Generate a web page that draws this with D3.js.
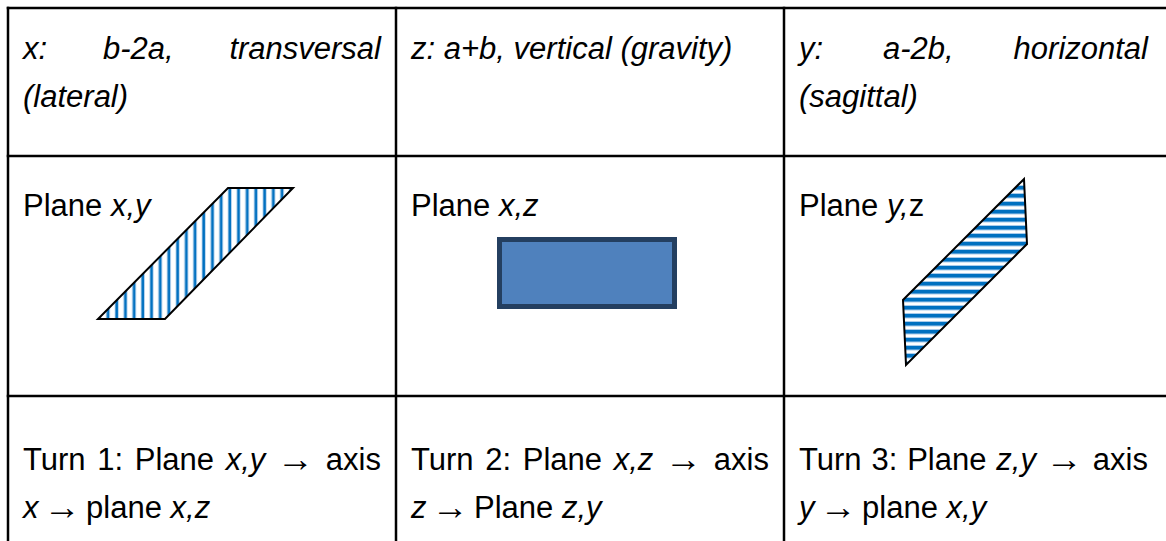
<!DOCTYPE html>
<html>
<head>
<meta charset="utf-8">
<script src="https://cdn.jsdelivr.net/npm/d3@7"></script>
<style>
  html, body { margin: 0; padding: 0; background: #fff; overflow: hidden; }
</style>
</head>
<body>
<div id="chart"></div>
<script>
// Cell texts: *...* marks italic runs, | marks a line break (lines before it are justified)
const headerTexts = [
  "*x: b-2a, transversal|(lateral)*",
  "*z: a+b, vertical (gravity)*",
  "*y: a-2b, horizontal|(sagittal)*"
];
const planeTexts = ["Plane *x,y*", "Plane *x,z*", "Plane *y,*z"];
const turnTexts = [
  "Turn 1: Plane *x,y* → axis|*x* → plane *x,z*",
  "Turn 2: Plane *x,z* → axis|*z* → Plane *z,y*",
  "Turn 3: Plane *z,y* → axis|*y* → plane *x,y*"
];
const rowTexts = [headerTexts, planeTexts, turnTexts];

// Plane drawings, in cell-local units
const planeShapes = [
  { kind: "poly", fill: "url(#vstripes)", points: [[220, 32], [285, 32], [157, 163], [90, 163]] },
  { kind: "rect", fill: "#4F81BD", points: [[103.5, 83.5], [278.5, 150.5]] },
  { kind: "poly", fill: "url(#hstripes)", points: [[240, 23], [243, 88], [122, 209], [119, 144]] }
];

class Chart {
  constructor() {
    const attrs = {
      container: "#chart",
      svgWidth: 1166,
      svgHeight: 541,
      tableLeft: 8,
      tableRight: 1172,
      rowEdges: [8, 156, 396, 546],
      firstBaseline: [51, 60, 74],
      lineHeight: 48,
      padLeft: 15,
      padRight: [15, 15, 24],
      fontSize: 31,
      arrowScale: [1.2, 1.15],
      font: "'Liberation Sans', Arial, Helvetica, sans-serif"
    };
    this.getState = () => attrs;
    this.setState = (d) => Object.assign(attrs, d);
  }

  render() {
    this.drawSvg();
    this.drawDefs();
    this.drawShapes();
    this.drawTexts();
    this.drawGrid();
    return this;
  }

  drawSvg() {
    const { container, svgWidth, svgHeight, font, tableLeft, tableRight } = this.getState();
    const svg = d3.select(container).append("svg")
      .attr("width", svgWidth)
      .attr("height", svgHeight)
      .attr("font-family", font);
    const colScale = d3.scaleBand().domain(d3.range(3)).range([tableLeft, tableRight]).padding(0);
    this.setState({ svg, colScale });
  }

  drawDefs() {
    const { svg } = this.getState();
    const defs = svg.append("defs");

    const v = defs.append("pattern").attr("id", "vstripes")
      .attr("patternUnits", "userSpaceOnUse").attr("width", 8.7).attr("height", 10);
    v.append("rect").attr("width", 8.7).attr("height", 10).attr("fill", "#fff");
    v.append("rect").attr("x", 1.6).attr("width", 4).attr("height", 10).attr("fill", "#A9CBEA");
    v.append("rect").attr("x", 2.4).attr("width", 2.4).attr("height", 10).attr("fill", "#0070C0");

    const h = defs.append("pattern").attr("id", "hstripes")
      .attr("patternUnits", "userSpaceOnUse").attr("width", 10).attr("height", 8);
    h.append("rect").attr("width", 10).attr("height", 8).attr("fill", "#fff");
    h.append("rect").attr("y", 1).attr("width", 10).attr("height", 5.5).attr("fill", "#A9CBEA");
    h.append("rect").attr("y", 2).attr("width", 10).attr("height", 3.5).attr("fill", "#0070C0");
  }

  drawShapes() {
    const { svg, colScale, rowEdges } = this.getState();
    const g = svg.append("g").attr("class", "shapes");
    planeShapes.forEach((s, i) => {
      const x = d3.scaleLinear().domain([0, colScale.bandwidth()])
        .range([colScale(i), colScale(i) + colScale.bandwidth()]);
      const y = d3.scaleLinear().domain([0, rowEdges[2] - rowEdges[1]])
        .range([rowEdges[1], rowEdges[2]]);
      if (s.kind === "rect") {
        const [[x0, y0], [x1, y1]] = s.points;
        g.append("rect")
          .attr("x", x(x0)).attr("y", y(y0))
          .attr("width", x(x1) - x(x0)).attr("height", y(y1) - y(y0))
          .attr("fill", s.fill)
          .attr("stroke", "#243F60")
          .attr("stroke-width", 5);
      } else {
        g.append("path")
          .attr("d", d3.line().x(d => x(d[0])).y(d => y(d[1]))(s.points) + "Z")
          .attr("fill", s.fill)
          .attr("stroke", "#000")
          .attr("stroke-width", 2)
          .attr("stroke-linejoin", "miter");
      }
    });
  }

  // returns lines -> words -> segments
  parseLines(str) {
    let italic = false;
    return str.split("|").map(line => line.split(" ").map(w => {
      const segs = [];
      w.split("*").forEach((p, i) => {
        if (i > 0) italic = !italic;
        if (p) segs.push({ t: p, italic });
      });
      return segs;
    }));
  }

  isArrow(segs) {
    return segs.length === 1 && segs[0].t === "→";
  }

  addWord(parent, segs, x, y) {
    const { fontSize } = this.getState();
    const t = parent.append("text")
      .attr("x", x).attr("y", y)
      .attr("font-size", fontSize)
      .attr("fill", "#000");
    t.selectAll("tspan").data(segs).join("tspan")
      .attr("font-style", d => d.italic ? "italic" : "normal")
      .text(d => d.t);
    return t;
  }

  drawTexts() {
    const { svg, colScale, rowEdges, firstBaseline, lineHeight, padLeft, padRight, arrowScale } = this.getState();
    const g = svg.append("g").attr("class", "texts");

    // space width and arrow slot width
    const probe = this.addWord(g, [{ t: "a a", italic: false }], 0, -100);
    const probe2 = this.addWord(g, [{ t: "aa", italic: false }], 0, -100);
    const probe3 = this.addWord(g, [{ t: "→", italic: false }], 0, -100);
    const spaceW = probe.node().getComputedTextLength() - probe2.node().getComputedTextLength();
    const arrowWidth = probe3.node().getComputedTextLength() * arrowScale[0];
    probe.remove(); probe2.remove(); probe3.remove();

    rowTexts.forEach((texts, r) => {
      texts.forEach((str, c) => {
        const left = colScale(c) + padLeft;
        const right = colScale(c) + colScale.bandwidth() - padRight[c];
        const avail = right - left;

        const lines = this.parseLines(str).map(line => line.map(segs => {
          if (this.isArrow(segs)) return { segs, w: arrowWidth };
          const t = this.addWord(g, segs, 0, -100);
          const w = t.node().getComputedTextLength();
          t.remove();
          return { segs, w };
        }));

        lines.forEach((line, li) => {
          const y = rowEdges[r] + firstBaseline[r] + li * lineHeight;
          const sumW = d3.sum(line, d => d.w);
          const last = li === lines.length - 1;
          const gap = (!last && line.length > 1) ? (avail - sumW) / (line.length - 1) : spaceW;
          let x = left;
          line.forEach((wd, wi) => {
            // the arrow glyph carries its own side bearings, so tighten the gaps around it
            const nextArrow = wi + 1 < line.length && this.isArrow(line[wi + 1].segs);
            const isArr = this.isArrow(wd.segs);
            if (isArr) {
              this.addWord(g, wd.segs, 0, 0)
                .attr("transform", `translate(${x},${y + 1}) scale(${arrowScale[0]},${arrowScale[1]})`);
            } else {
              this.addWord(g, wd.segs, x, y);
            }
            const tighten = last && (isArr || nextArrow) ? spaceW * 0.4 : 0;
            x += wd.w + gap - tighten;
          });
        });
      });
    });
  }

  drawGrid() {
    const { svg, colScale, rowEdges, tableLeft, tableRight } = this.getState();
    const g = svg.append("g").attr("class", "grid")
      .attr("stroke", "#000").attr("stroke-width", 2.5).attr("fill", "none");
    const colEdges = [tableLeft, colScale(1), colScale(2), tableRight];
    g.selectAll("line.h").data(rowEdges).join("line").attr("class", "h")
      .attr("x1", tableLeft - 1.25).attr("x2", tableRight + 1.25)
      .attr("y1", d => d).attr("y2", d => d);
    g.selectAll("line.v").data(colEdges).join("line").attr("class", "v")
      .attr("y1", rowEdges[0] - 1.25).attr("y2", rowEdges[rowEdges.length - 1] + 1.25)
      .attr("x1", d => d).attr("x2", d => d);
  }
}

new Chart().render();
</script>
</body>
</html>
